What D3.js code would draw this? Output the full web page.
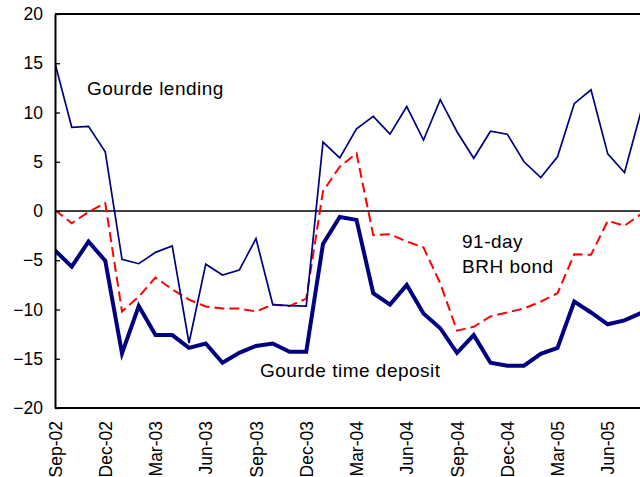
<!DOCTYPE html>
<html>
<head>
<meta charset="utf-8">
<script src="https://cdn.jsdelivr.net/npm/d3@7"></script>
<style>
  html, body { margin: 0; padding: 0; background: #fff; }
  svg { display: block; font-family: "Liberation Sans", Arial, sans-serif; }
</style>
</head>
<body>
<svg id="chart" width="640" height="477"></svg>
<script>
const months = ["Sep-02","Oct-02","Nov-02","Dec-02","Jan-03","Feb-03","Mar-03","Apr-03","May-03","Jun-03","Jul-03","Aug-03",
  "Sep-03","Oct-03","Nov-03","Dec-03","Jan-04","Feb-04","Mar-04","Apr-04","May-04","Jun-04","Jul-04","Aug-04",
  "Sep-04","Oct-04","Nov-04","Dec-04","Jan-05","Feb-05","Mar-05","Apr-05","May-05","Jun-05","Jul-05","Aug-05"];

const gourdeLending = [15.0, 8.5, 8.6, 6.0, -4.9, -5.35, -4.2, -3.55, -13.4, -5.4, -6.5, -6.0,
  -2.8, -9.5, -9.6, -9.65, 7.0, 5.4, 8.35, 9.6, 7.8, 10.6, 7.2, 11.3,
  8.05, 5.35, 8.1, 7.8, 5.0, 3.4, 5.5, 10.9, 12.3, 5.8, 3.9, 10.2];

const gourdeTimeDeposit = [-4.0, -5.65, -3.1, -5.05, -14.45, -9.65, -12.6, -12.6, -13.9, -13.45, -15.4, -14.4,
  -13.7, -13.45, -14.3, -14.3, -3.35, -0.6, -0.9, -8.35, -9.5, -7.5, -10.4, -11.9,
  -14.4, -12.6, -15.4, -15.7, -15.7, -14.5, -13.9, -9.2, -10.3, -11.5, -11.1, -10.35];

const brhBond91 = [0.1, -1.25, -0.1, 0.8, -10.2, -8.7, -6.75, -7.95, -9.0, -9.7, -9.9, -9.9,
  -10.2, -9.5, -9.65, -8.9, 2.0, 4.5, 5.85, -2.45, -2.35, -3.1, -3.7, -7.35,
  -12.15, -11.75, -10.7, -10.3, -9.9, -9.2, -8.35, -4.4, -4.45, -1.0, -1.5, -0.3];

const yTicks = [-20, -15, -10, -5, 0, 5, 10, 15, 20];
const xTickLabels = ["Sep-02","Dec-02","Mar-03","Jun-03","Sep-03","Dec-03","Mar-04","Jun-04","Sep-04","Dec-04","Mar-05","Jun-05"];

const svg = d3.select("#chart");
const mLeft = 55, mTop = 14, mBottom = 408, mRight = 640;
const lastX = 641.25;

const x = d3.scalePoint().domain(months).range([mLeft, lastX]);
const y = d3.scaleLinear().domain([-20, 20]).range([mBottom, mTop]);

svg.append("defs").append("clipPath").attr("id", "clip")
  .append("rect").attr("x", mLeft).attr("y", mTop - 5).attr("width", mRight - mLeft).attr("height", mBottom - mTop + 10);

// top frame line
svg.append("line").attr("x1", mLeft).attr("x2", mRight).attr("y1", y(20)).attr("y2", y(20))
  .attr("stroke", "#000").attr("stroke-width", 1.8);

// zero line
svg.append("line").attr("x1", mLeft).attr("x2", mRight).attr("y1", y(0)).attr("y2", y(0))
  .attr("stroke", "#000").attr("stroke-width", 1.3);

const line = d3.line().x((d, i) => x(months[i])).y(d => y(d));
const g = svg.append("g").attr("clip-path", "url(#clip)");

g.append("path").datum(brhBond91).attr("d", line)
  .attr("fill", "none").attr("stroke", "#ff0000").attr("stroke-width", 2)
  .attr("stroke-dasharray", "10,5").attr("stroke-linejoin", "miter");

g.append("path").datum(gourdeLending).attr("d", line)
  .attr("fill", "none").attr("stroke", "#000080").attr("stroke-width", 1.7)
  .attr("stroke-linejoin", "miter");

g.append("path").datum(gourdeTimeDeposit).attr("d", line)
  .attr("fill", "none").attr("stroke", "#000080").attr("stroke-width", 4)
  .attr("stroke-linejoin", "miter");

// Y axis
const yAxis = svg.append("g").attr("transform", `translate(${mLeft},0)`)
  .call(d3.axisLeft(y).tickValues(yTicks).tickSize(-5).tickSizeOuter(0).tickPadding(12).tickFormat(d3.format("d")));
yAxis.select(".domain").attr("stroke", "#000").attr("stroke-width", 2);
yAxis.selectAll(".tick line").attr("stroke", "#000").attr("stroke-width", 1.3);
yAxis.selectAll(".tick text").attr("font-size", 17.5).attr("fill", "#000")
  .attr("font-family", "Liberation Sans, Arial, sans-serif");

// X axis
const xAxis = svg.append("g").attr("transform", `translate(0,${mBottom})`)
  .call(d3.axisBottom(x).tickValues(xTickLabels).tickSize(0).tickSizeOuter(0));
xAxis.select(".domain").attr("stroke", "#000").attr("stroke-width", 2)
  .attr("d", `M${mLeft},0H${mRight}`);
xAxis.selectAll(".tick text")
  .attr("font-size", 17.5).attr("fill", "#000")
  .attr("font-family", "Liberation Sans, Arial, sans-serif")
  .attr("transform", "rotate(-90)")
  .attr("text-anchor", "end")
  .attr("x", -13).attr("y", 0).attr("dy", "0.35em");

// annotations
const ann = [
  {t: "Gourde lending", x: 87, y: 95},
  {t: "91-day", x: 462, y: 248},
  {t: "BRH bond", x: 462, y: 273},
  {t: "Gourde time deposit", x: 260, y: 377}
];
svg.selectAll("text.ann").data(ann).enter().append("text").attr("class", "ann")
  .attr("x", d => d.x).attr("y", d => d.y).attr("font-size", 19).attr("fill", "#000")
  .attr("letter-spacing", "0.5px")
  .text(d => d.t);
</script>
</body>
</html>
